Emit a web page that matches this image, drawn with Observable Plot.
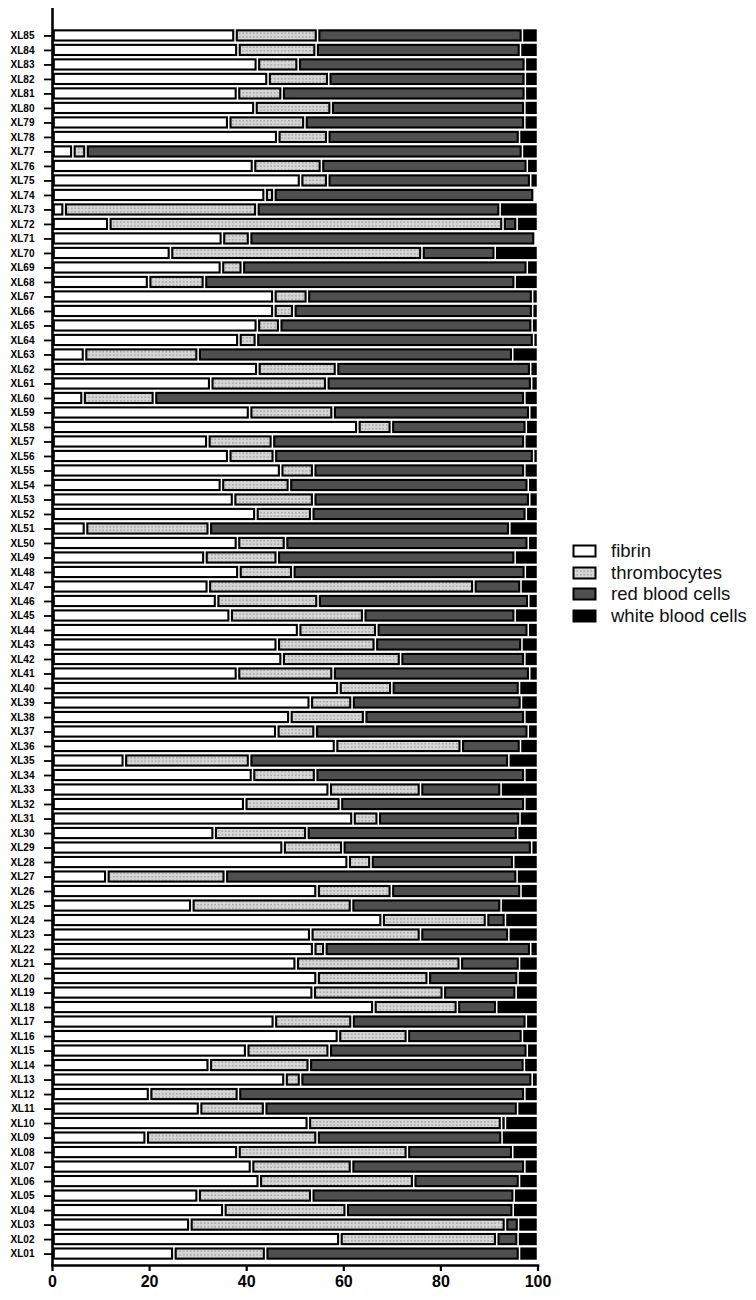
<!DOCTYPE html>
<html>
<head>
<meta charset="utf-8">
<script src="https://cdn.jsdelivr.net/npm/d3@7"></script>
<script src="https://cdn.jsdelivr.net/npm/@observablehq/plot@0.6"></script>
<style>
  body { margin: 0; background: #fff; }
  #wrap { position: relative; width: 756px; height: 1300px; }
  #chart svg { font-family: "Liberation Sans", Arial, sans-serif; }
  #legend { position: absolute; left: 572px; top: 540px; font-family: "Liberation Sans", Arial, sans-serif; font-size: 18.5px; color: #111; }
  #legend .item { display: flex; align-items: center; height: 21.7px; }
  #legend svg { margin-right: 13px; }
</style>
</head>
<body>
<svg width="0" height="0" style="position:absolute">
  <defs>
    <pattern id="dots" width="3.5" height="3.5" patternUnits="userSpaceOnUse">
      <rect width="3.5" height="3.5" fill="#d6d6d6"></rect>
      <rect x="1.1" y="1.1" width="1.3" height="1.3" fill="#8c8c8c"></rect>
    </pattern>
  </defs>
</svg>
<div id="wrap">
  <div id="chart"></div>
  <div id="legend"></div>
</div>
<script>
const samples = ["XL01","XL02","XL03","XL04","XL05","XL06","XL07","XL08","XL09","XL10",
  "XL11","XL12","XL13","XL14","XL15","XL16","XL17","XL18","XL19","XL20",
  "XL21","XL22","XL23","XL24","XL25","XL26","XL27","XL28","XL29","XL30",
  "XL31","XL32","XL33","XL34","XL35","XL36","XL37","XL38","XL39","XL40",
  "XL41","XL42","XL43","XL44","XL45","XL46","XL47","XL48","XL49","XL50",
  "XL51","XL52","XL53","XL54","XL55","XL56","XL57","XL58","XL59","XL60",
  "XL61","XL62","XL63","XL64","XL65","XL66","XL67","XL68","XL69","XL70",
  "XL71","XL72","XL73","XL74","XL75","XL76","XL77","XL78","XL79","XL80",
  "XL81","XL82","XL83","XL84","XL85"];

const fibrin = [25.1,59.3,28.4,35.4,30.1,42.7,41.1,38.3,19.4,52.8,
  30.4,20.1,48.0,32.4,40.1,59.0,45.8,66.3,53.8,54.6,
  50.3,53.9,53.3,68.0,28.8,54.6,11.3,61.0,47.6,33.4,
  62.0,39.7,57.1,41.3,14.9,58.4,46.3,49.0,53.2,59.1,
  38.2,47.4,46.4,50.8,36.7,33.9,32.2,38.5,31.5,38.2,
  6.9,42.0,37.4,34.9,47.1,36.4,32.1,63.0,40.7,6.4,
  32.7,42.4,6.7,38.5,42.3,45.7,45.7,19.9,34.9,24.4,
  35.1,11.7,2.5,43.9,51.2,41.5,4.3,46.5,36.4,41.8,
  38.2,44.5,42.3,38.3,37.7];

const thrombocytes = [18.9,32.3,65.0,25.2,23.4,31.8,20.6,34.9,35.2,39.8,
  13.4,18.3,3.2,20.6,17.0,14.2,16.0,17.2,26.8,22.9,
  33.8,2.3,22.6,21.5,32.9,15.3,24.4,4.7,12.3,19.1,
  5.2,19.7,18.8,13.0,25.8,25.9,7.9,15.4,8.6,10.9,
  19.7,24.4,20.2,16.1,27.5,20.9,54.7,11.1,14.9,9.9,
  25.5,11.5,16.5,14.0,6.8,9.4,13.3,6.9,17.2,14.7,
  23.9,16.2,23.4,3.6,4.6,4.1,6.9,11.5,4.3,51.8,
  5.6,81.2,39.7,1.8,5.6,14.0,2.7,10.3,15.7,15.7,
  9.2,12.5,8.4,16.1,17.0];

const redBloodCells = [52.3,4.4,2.7,34.4,41.7,21.8,35.7,21.7,38.1,0.8,
  52.1,59.0,47.7,44.3,40.8,23.7,35.9,8.1,15.0,18.5,
  12.2,42.4,18.2,3.9,30.8,26.7,60.1,29.4,38.9,43.4,
  29.2,38.0,16.6,43.1,53.4,12.2,43.9,33.0,34.9,26.3,
  40.5,25.6,30.2,31.2,31.2,43.4,9.7,47.9,49.0,50.0,
  61.9,44.2,44.5,49.2,43.5,53.4,52.0,27.8,40.5,76.3,
  42.2,40.0,64.8,57.1,52.0,49.2,46.4,64.0,58.7,15.1,
  58.8,2.9,50.1,53.6,41.8,42.4,89.9,39.5,45.3,39.9,
  50.1,40.5,46.8,42.1,42.2];

const whiteBloodCells = [3.7,4.0,3.9,5.0,4.8,3.7,2.6,5.1,7.3,6.6,
  4.1,2.6,1.1,2.7,2.1,3.1,2.3,8.4,4.4,4.0,
  3.7,1.4,5.9,6.6,7.5,3.4,4.2,4.9,1.2,4.1,
  3.6,2.6,7.5,2.6,5.9,3.5,1.9,2.6,3.3,3.7,
  1.6,2.6,3.2,1.9,4.6,1.8,3.4,2.5,4.6,1.9,
  5.7,2.3,1.6,1.9,2.6,0.8,2.6,2.3,1.6,2.6,
  1.2,1.4,5.1,0.8,1.1,1.0,1.0,4.6,2.1,8.7,
  0.5,4.2,7.7,0.7,1.4,2.1,3.1,3.7,2.6,2.6,
  2.5,2.5,2.5,3.5,3.1];

const components = ["fibrin", "thrombocytes", "red blood cells", "white blood cells"];
const componentFills = ["#ffffff", "url(#dots)", "#4f4f4f", "#000000"];
const xTicks = [0, 20, 40, 60, 80, 100];

const series = [fibrin, thrombocytes, redBloodCells, whiteBloodCells];
const rows = samples.flatMap((s, i) =>
  components.map((c, j) => ({sample: s, component: c, value: series[j][i]}))
);

const chart = Plot.plot({
  width: 756,
  height: 1300,
  marginLeft: 52,
  marginRight: 218.5,
  marginTop: 8,
  marginBottom: 35,
  x: {domain: [0, 100]},
  y: {domain: samples.slice().reverse(), range: [26, 1263], padding: 0.3},
  color: {domain: components, range: componentFills},
  marks: [
    Plot.barX(rows, Plot.stackX({
      x: "value", y: "sample", fill: "component", order: components,
      stroke: "black", strokeWidth: 2.1, insetLeft: 1.8, insetRight: 1.8
    })),
    Plot.ruleX([0], {strokeWidth: 2.6}),
    Plot.frame({anchor: "bottom", strokeWidth: 2.6}),
    Plot.axisX({ticks: xTicks, tickSize: 6, tickPadding: 4, strokeWidth: 2.2,
      fontSize: 16, fontWeight: "bold", label: null}),
    Plot.axisY({tickSize: 8, tickPadding: 10, strokeWidth: 1.8,
      fontSize: 10, fontWeight: "bold", label: null})
  ]
});
document.getElementById("chart").appendChild(chart);

const legend = document.getElementById("legend");
components.forEach((c, j) => {
  const item = document.createElement("div");
  item.className = "item";
  item.innerHTML = `<svg width="26" height="14"><rect x="1.5" y="1.5" width="22" height="11" fill="${componentFills[j]}" stroke="#000" stroke-width="2"></rect></svg><span>${c}</span>`;
  legend.appendChild(item);
});
</script>
</body>
</html>
